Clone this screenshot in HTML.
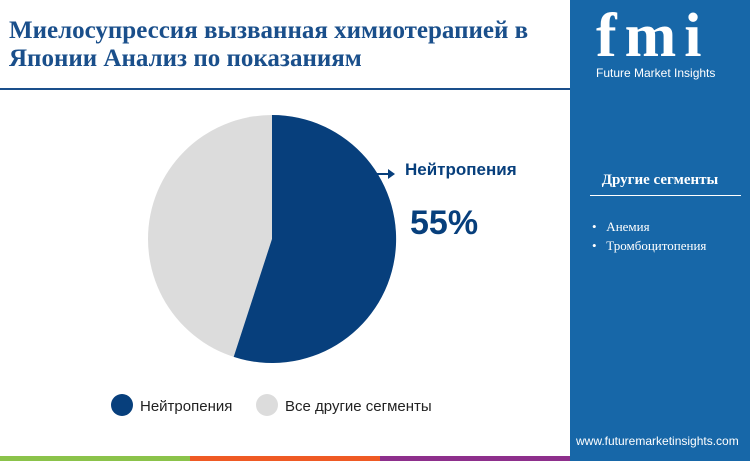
<!DOCTYPE html>
<html><head><meta charset="utf-8"><style>
body{margin:0;width:750px;height:461px;position:relative;background:#fff;font-family:"Liberation Sans",sans-serif;overflow:hidden}
.t{position:absolute;left:9px;top:17px;font-family:"Liberation Serif",serif;font-weight:bold;font-size:25px;line-height:28px;color:#1a4f8b}
.panel{position:absolute;left:570px;top:0;width:180px;height:461px;background:#1767a8}
</style></head><body>
<div class="t">Миелосупрессия вызванная химиотерапией в<br>Японии Анализ по показаниям</div>
<div style="position:absolute;left:0;top:88px;width:570px;height:2px;background:#1a4f8b"></div>
<svg style="position:absolute;left:0;top:0" width="570" height="461">
<circle cx="272" cy="239" r="124" fill="#dcdcdc"/>
<path d="M272,239 L272,115 A124,124 0 1 1 233.7,356.9 Z" fill="#073f7c"/>
<line x1="376" y1="174" x2="390" y2="174" stroke="#073f7c" stroke-width="2"/>
<path d="M388,169 L395,174 L388,179 Z" fill="#073f7c"/>
<text x="405" y="175" font-size="17" font-weight="bold" fill="#073f7c" font-family="Liberation Sans">Нейтропения</text>
<text x="410" y="234" font-size="34" font-weight="bold" fill="#073f7c" font-family="Liberation Sans">55%</text>
<circle cx="122" cy="405" r="11" fill="#073f7c"/>
<text x="140" y="411" font-size="15" fill="#222" font-family="Liberation Sans">Нейтропения</text>
<circle cx="267" cy="405" r="11" fill="#dcdcdc"/>
<text x="285" y="411" font-size="15" fill="#222" font-family="Liberation Sans">Все другие сегменты</text>
<rect x="0" y="456" width="190" height="5" fill="#8bc34a"/>
<rect x="190" y="456" width="190" height="5" fill="#ef5a24"/>
<rect x="380" y="456" width="190" height="5" fill="#8e2f8c"/>
</svg>
<div class="panel">
<div style="position:absolute;left:26px;top:8px;font-family:'Liberation Serif',serif;font-weight:bold;font-size:62px;line-height:56px;color:#fff;letter-spacing:8px">fmi</div>
<div style="position:absolute;left:26px;top:66px;font-size:12px;color:#fff">Future Market Insights</div>
<div style="position:absolute;left:0;width:180px;top:172px;text-align:center;font-family:'Liberation Serif',serif;font-weight:bold;font-size:15px;color:#fff">Другие сегменты</div>
<div style="position:absolute;left:20px;top:195px;width:151px;height:1px;background:#fff"></div>
<div style="position:absolute;left:22px;top:217px;font-family:'Liberation Serif',serif;font-size:13px;color:#fff;line-height:19px">•&nbsp;&nbsp; Анемия<br>•&nbsp;&nbsp; Тромбоцитопения</div>
<div style="position:absolute;left:6px;top:434px;font-size:12px;color:#fff">www.futuremarketinsights.com</div>
</div>
</body></html>
